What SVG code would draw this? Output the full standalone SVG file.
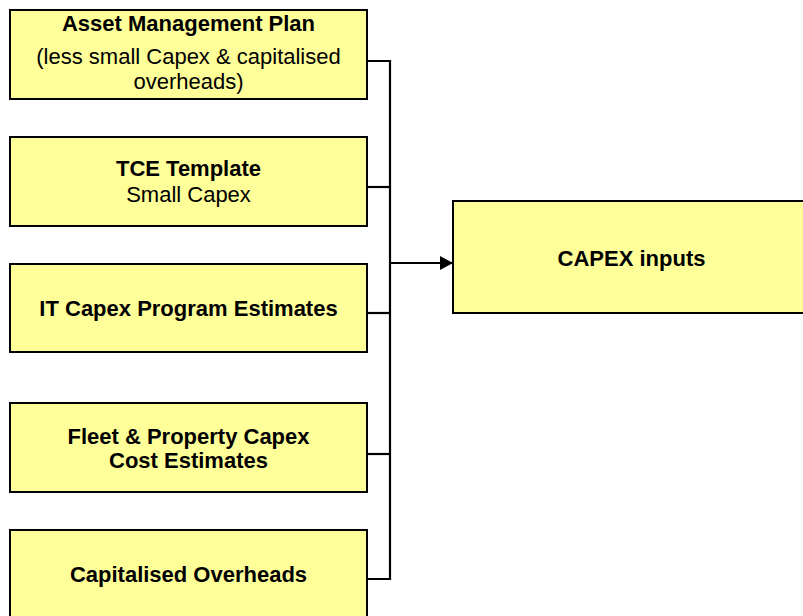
<svg xmlns="http://www.w3.org/2000/svg" width="803" height="616" viewBox="0 0 803 616">
  <style>
    .box { fill: #FFFF99; stroke: #000; stroke-width: 2; }
    .t { font-family: "Liberation Sans", Arial, sans-serif; font-size: 22px; fill: #000; text-anchor: middle; }
    .b { font-weight: bold; }
    .wire { fill: none; stroke: #000; stroke-width: 2.2; }
  </style>
  <defs>
    <marker id="arrow" viewBox="0 0 13 14" refX="13" refY="7" markerWidth="13" markerHeight="14" markerUnits="userSpaceOnUse" orient="auto">
      <path d="M0,0 L13,7 L0,14 Z" fill="#000"/>
    </marker>
  </defs>
  <rect width="803" height="616" fill="#fff"/>

  <g id="connectors">
    <path class="wire" d="M367,61 H390 V579 H367"/>
    <path class="wire" d="M367,187 H390"/>
    <path class="wire" d="M367,313 H390"/>
    <path class="wire" d="M367,454 H390"/>
    <path class="wire" d="M390,263 H453" marker-end="url(#arrow)"/>
  </g>

  <g id="asset-management-plan">
    <rect class="box" x="10" y="10" width="357" height="89"/>
    <text class="t b" x="188.5" y="31">Asset Management Plan</text>
    <text class="t" x="188.5" y="64">(less small Capex &amp; capitalised</text>
    <text class="t" x="188.5" y="89">overheads)</text>
  </g>

  <g id="tce-template">
    <rect class="box" x="10" y="137" width="357" height="89"/>
    <text class="t b" x="188.5" y="176">TCE Template</text>
    <text class="t" x="188.5" y="202">Small Capex</text>
  </g>

  <g id="it-capex">
    <rect class="box" x="10" y="264" width="357" height="88"/>
    <text class="t b" x="188.5" y="316">IT Capex Program Estimates</text>
  </g>

  <g id="fleet-property">
    <rect class="box" x="10" y="403" width="357" height="89"/>
    <text class="t b" x="188.5" y="444">Fleet &amp; Property Capex</text>
    <text class="t b" x="188.5" y="468">Cost Estimates</text>
  </g>

  <g id="capitalised-overheads">
    <rect class="box" x="10" y="530" width="357" height="92"/>
    <text class="t b" x="188.5" y="582">Capitalised Overheads</text>
  </g>

  <g id="capex-inputs">
    <rect class="box" x="453" y="201" width="360" height="112"/>
    <text class="t b" x="631.5" y="266">CAPEX inputs</text>
  </g>
</svg>
